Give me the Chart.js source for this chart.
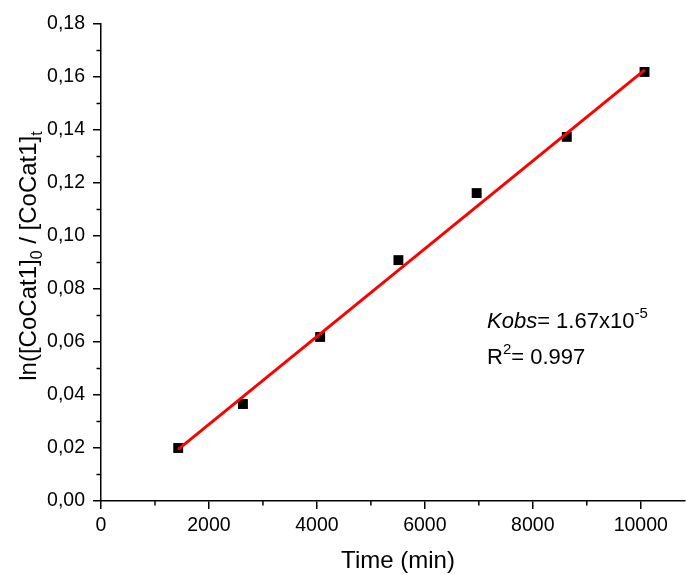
<!DOCTYPE html>
<html>
<head>
<meta charset="utf-8">
<script src="https://cdn.jsdelivr.net/npm/chart.js@4"></script>
<style>
  html,body{margin:0;padding:0;background:#fff;}
  #wrap{width:686px;height:575px;position:relative;}
</style>
</head>
<body>
<div id="wrap"><canvas id="c" width="686" height="575"></canvas></div>
<script>
// data
const timeMin = [1430, 2630, 4060, 5510, 6960, 8630, 10070];
const lnRatio = [0.0200, 0.0366, 0.0619, 0.0909, 0.1162, 0.1374, 0.1619];
const fitX = [1430, 10074];
const fitY = [0.0195, 0.1627];
const xTicks = [0, 2000, 4000, 6000, 8000, 10000];
const xMinor = [1000, 3000, 5000, 7000, 9000];
const yTicks = [0, 0.02, 0.04, 0.06, 0.08, 0.10, 0.12, 0.14, 0.16, 0.18];
const yMinor = [0.01, 0.03, 0.05, 0.07, 0.09, 0.11, 0.13, 0.15, 0.17];

const FONT = "'Liberation Sans', Arial, sans-serif";

// stretch the x axis to the right edge (layout keeps a few px otherwise)
const stretch = {
  id: 'stretch',
  afterLayout(chart){
    const a = chart.chartArea, x = chart.scales.x, R = 685;
    a.right = R; a.width = R - a.left;
    x.right = R; x.width = R - x.left;
    x.configure();
  }
};

// minor ticks, axis titles with subscripts, annotation
const extras = {
  id: 'extras',
  afterDraw(chart){
    const ctx = chart.ctx, xs = chart.scales.x, ys = chart.scales.y;
    const a = chart.chartArea;
    ctx.save();
    ctx.strokeStyle = '#000'; ctx.lineWidth = 1.5;
    xMinor.forEach(v => { const p = xs.getPixelForValue(v); ctx.beginPath(); ctx.moveTo(p, a.bottom); ctx.lineTo(p, a.bottom + 4.5); ctx.stroke(); });
    yMinor.forEach(v => { const p = ys.getPixelForValue(v); ctx.beginPath(); ctx.moveTo(a.left, p); ctx.lineTo(a.left - 4.5, p); ctx.stroke(); });

    ctx.fillStyle = '#000';
    // x title
    ctx.font = '24px ' + FONT;
    ctx.textAlign = 'center'; ctx.textBaseline = 'alphabetic';
    ctx.fillText('Time (min)', 398, 568);

    // y title, rotated
    const parts = [['ln([CoCat1]', 0], ['0', 1], [' / [CoCat1]', 0], ['t', 1]];
    const big = '24px ' + FONT, small = '16px ' + FONT;
    let total = 0;
    parts.forEach(([t, s]) => { ctx.font = s ? small : big; total += ctx.measureText(t).width; });
    ctx.translate(36, 256);
    ctx.rotate(-Math.PI / 2);
    ctx.textAlign = 'left';
    let x = -total / 2;
    parts.forEach(([t, s]) => { ctx.font = s ? small : big; ctx.fillText(t, x, s ? 6 : 0); x += ctx.measureText(t).width; });
    ctx.restore();

    // annotation
    ctx.save();
    ctx.fillStyle = '#000'; ctx.textAlign = 'left'; ctx.textBaseline = 'alphabetic';
    let tx = 487;
    ctx.font = 'italic 22px ' + FONT; ctx.fillText('Kobs', tx, 328); tx += ctx.measureText('Kobs').width;
    ctx.font = '22px ' + FONT; ctx.fillText('= 1.67x10', tx, 328); tx += ctx.measureText('= 1.67x10').width;
    ctx.font = '15px ' + FONT; ctx.fillText('-5', tx, 318);
    tx = 487;
    ctx.font = '22px ' + FONT; ctx.fillText('R', tx, 364); tx += ctx.measureText('R').width;
    ctx.font = '15px ' + FONT; ctx.fillText('2', tx, 354); tx += ctx.measureText('2').width;
    ctx.font = '22px ' + FONT; ctx.fillText('= 0.997', tx, 364);
    ctx.restore();
  }
};

const axisCommon = {
  border: {display: true, color: '#000', width: 1.5},
  grid: {display: true, drawOnChartArea: false, drawTicks: true, tickLength: 8, color: '#000', lineWidth: 1.5},
};

new Chart(document.getElementById('c'), {
  type: 'scatter',
  data: {
    datasets: [
      {label: 'fit', data: fitX.map((x, i) => ({x, y: fitY[i]})), showLine: true, borderColor: '#ff0000', borderWidth: 3, pointRadius: 0, order: 0},
      {label: 'data', data: timeMin.map((x, i) => ({x, y: lnRatio[i]})), pointStyle: 'rect', pointRadius: 7, backgroundColor: '#000', borderColor: '#000', borderWidth: 0, order: 1}
    ]
  },
  options: {
    responsive: false, animation: false, devicePixelRatio: 1,
    layout: {padding: {top: 24, right: 1, left: 0, bottom: 0}},
    plugins: {legend: {display: false}, tooltip: {enabled: false}},
    scales: {
      x: {
        ...axisCommon, type: 'linear', min: 0, max: 10820,
        afterBuildTicks: s => { s.ticks = xTicks.map(v => ({value: v})); },
        afterFit: s => { s.height = 74; s.paddingLeft = 0; s.paddingRight = 0; },
        ticks: {color: '#000', font: {family: FONT, size: 19.5}, padding: 5, maxRotation: 0, callback: v => String(v)}
      },
      y: {
        ...axisCommon, type: 'linear', min: 0, max: 0.18,
        afterBuildTicks: s => { s.ticks = yTicks.map(v => ({value: v})); },
        afterFit: s => { s.width = 101; s.paddingTop = 0; s.paddingBottom = 0; },
        ticks: {color: '#000', font: {family: FONT, size: 19.5}, padding: 8, callback: v => v.toFixed(2).replace('.', ',')}
      }
    }
  },
  plugins: [stretch, extras]
});
</script>
</body>
</html>
